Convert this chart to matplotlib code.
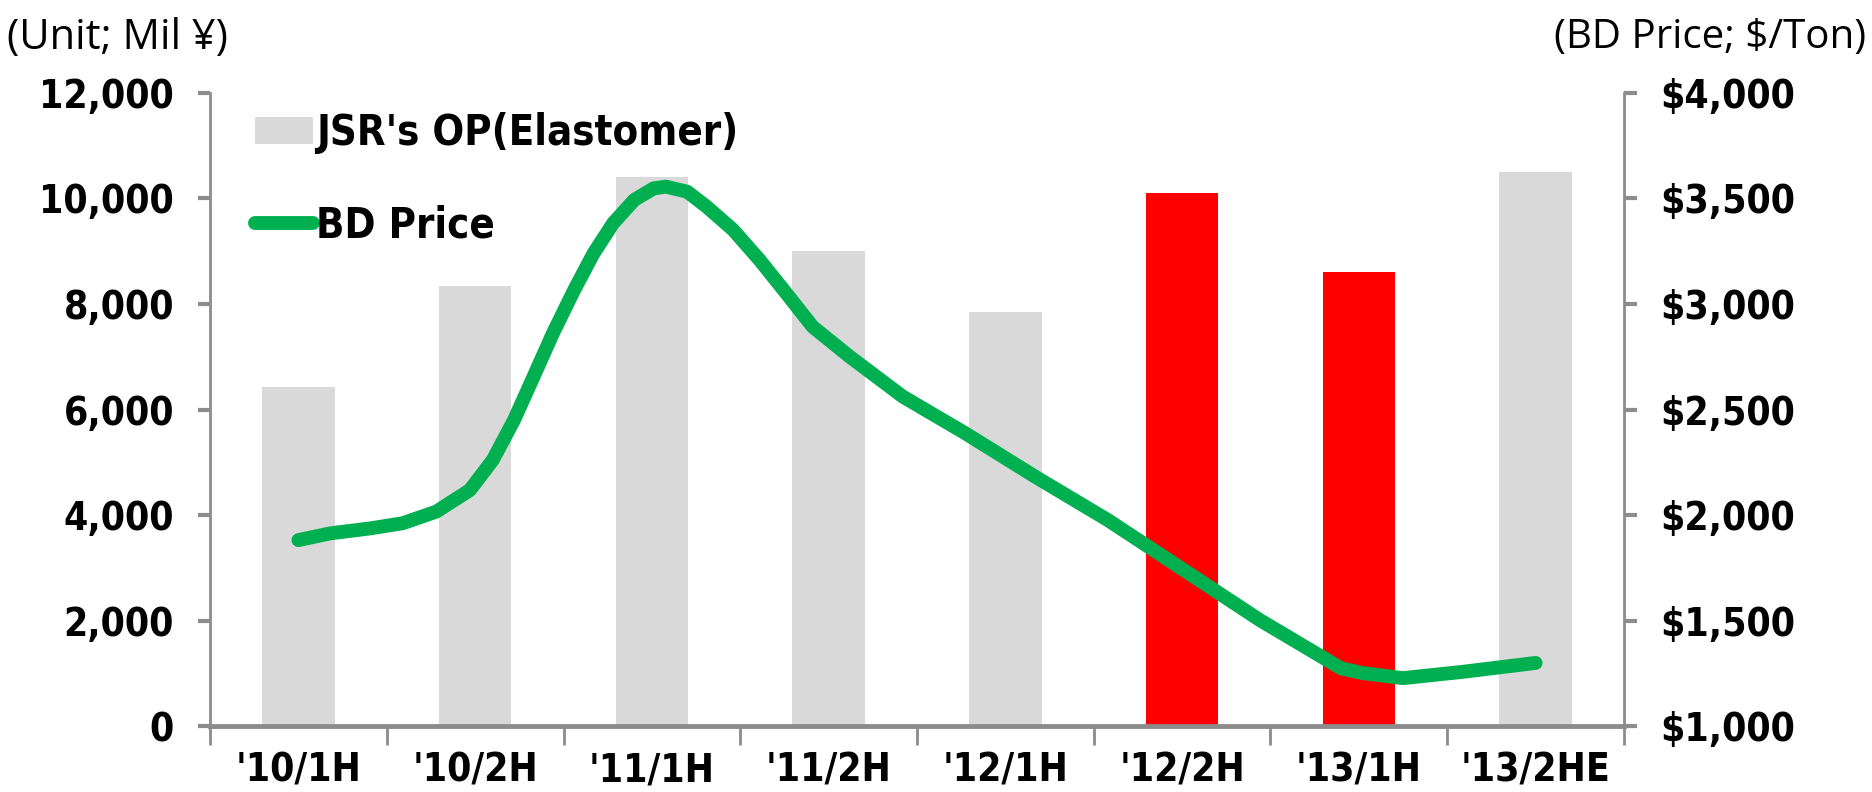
import matplotlib
matplotlib.use("Agg")
import matplotlib.pyplot as plt
import matplotlib.patches as patches
from matplotlib.lines import Line2D
from matplotlib.ticker import FuncFormatter
import numpy as np

# data
periods = ["'10/1H", "'10/2H", "'11/1H", "'11/2H", "'12/1H", "'12/2H", "'13/1H", "'13/2HE"]
op_elastomer = [6430, 8350, 10400, 9000, 7850, 10100, 8600, 10500]
bar_colors = ["#D9D9D9", "#D9D9D9", "#D9D9D9", "#D9D9D9", "#D9D9D9", "#FF0000", "#FF0000", "#D9D9D9"]

# BD price trace (position in half-year periods, $/ton)
bd_period = [0.0, 0.18, 0.41, 0.59, 0.78, 0.97, 1.10, 1.22, 1.33, 1.44, 1.56, 1.67, 1.78,
             1.90, 2.01, 2.08, 2.20, 2.31, 2.46, 2.61, 2.76, 2.91, 3.12, 3.42, 3.77, 4.17,
             4.58, 5.01, 5.44, 5.82, 5.90, 6.02, 6.25, 6.59, 7.0]
bd_price = [1881, 1913, 1937, 1961, 2016, 2118, 2261, 2450, 2655, 2861, 3066, 3240, 3382,
            3493, 3548, 3556, 3532, 3461, 3351, 3208, 3051, 2892, 2750, 2561, 2389, 2181,
            1976, 1739, 1502, 1313, 1273, 1251, 1227, 1257, 1299]

label_font = ["DejaVu Sans", "Liberation Sans"]
unit_font = ["Open Sans", "DejaVu Sans"]
axis_gray = "#8C8C8C"

fig = plt.figure(figsize=(18.72, 7.92), dpi=100)
ax = fig.add_axes([0.1122, 0.0833, 0.7553, 0.7993])

x = np.arange(len(periods))
ax.bar(x, op_elastomer, width=0.41, color=bar_colors, zorder=2)

ax.set_xlim(-0.5, len(periods) - 0.5)
ax.set_ylim(0, 12000)
ax.set_yticks(np.arange(0, 12001, 2000))
ax.yaxis.set_major_formatter(FuncFormatter(lambda v, p: f"{int(v):,}"))

ax.set_xticks(x)
ax.set_xticklabels(periods)
ax.set_xticks(np.arange(-0.5, len(periods), 1), minor=True)
ax.tick_params(axis="x", which="major", length=0, pad=18)
ax.tick_params(axis="x", which="minor", length=14, width=2, color=axis_gray, direction="out")
ax.tick_params(axis="y", length=9, width=3, color=axis_gray, direction="out", pad=17)

for s in ["top", "right"]:
    ax.spines[s].set_visible(False)
ax.spines["left"].set_color(axis_gray)
ax.spines["left"].set_linewidth(2)
ax.spines["bottom"].set_color(axis_gray)
ax.spines["bottom"].set_linewidth(3.5)

ax2 = ax.twinx()
ax2.plot(bd_period, bd_price, color="#00B050", linewidth=10, solid_capstyle="round",
         solid_joinstyle="round", zorder=3)
ax2.set_ylim(1000, 4000)
ax2.set_yticks(np.arange(1000, 4001, 500))
ax2.yaxis.set_major_formatter(FuncFormatter(lambda v, p: f"${int(v):,}"))
ax2.tick_params(axis="y", length=9, width=3, color=axis_gray, direction="out", pad=17)
for s in ["top", "left", "bottom"]:
    ax2.spines[s].set_visible(False)
ax2.spines["right"].set_color(axis_gray)
ax2.spines["right"].set_linewidth(2)

for lab in ax.get_yticklabels() + ax2.get_yticklabels() + ax.get_xticklabels():
    lab.set_fontfamily(label_font)
    lab.set_fontstretch("condensed")
    lab.set_fontweight("bold")
    lab.set_fontsize(28)

handles = [patches.Patch(facecolor="#D9D9D9", edgecolor="none"),
           Line2D([0], [0], color="#00B050", linewidth=10, solid_capstyle="round")]
leg = ax2.legend(handles, ["JSR's OP(Elastomer)", "BD Price"], loc="upper left",
                 bbox_to_anchor=(0.005, 1.029), frameon=False, handlelength=1.4,
                 handleheight=0.6, handletextpad=0.08, labelspacing=1.2,
                 prop={"family": label_font, "weight": "bold", "size": 30,
                       "stretch": "condensed"})

fig.text(0.004, 0.952, "(Unit; Mil ¥)", family=unit_font, fontsize=30, ha="left", va="center")
fig.text(0.997, 0.952, "(BD Price; $/Ton)", family=unit_font, fontsize=29, ha="right", va="center")

fig.savefig("out.png", dpi=100)
